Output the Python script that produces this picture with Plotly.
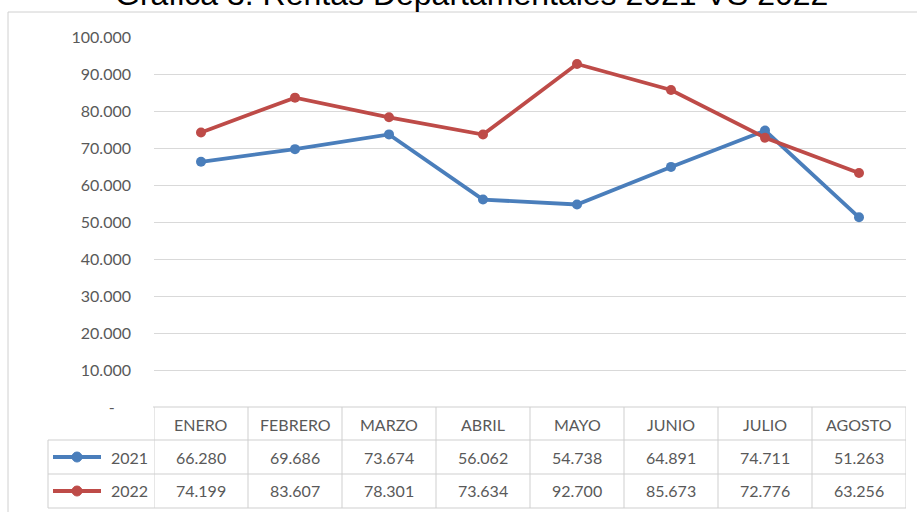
import plotly.graph_objects as go

# ---- data ----
months = ["ENERO", "FEBRERO", "MARZO", "ABRIL", "MAYO", "JUNIO", "JULIO", "AGOSTO"]
series_names = ["2021", "2022"]
v2021 = [66280, 69686, 73674, 56062, 54738, 64891, 74711, 51263]
v2022 = [74199, 83607, 78301, 73634, 92700, 85673, 72776, 63256]
y_ticks = [0, 10000, 20000, 30000, 40000, 50000, 60000, 70000, 80000, 90000, 100000]
y_ticktext = ["-\u00a0\u00a0\u00a0\u00a0", "10.000", "20.000", "30.000", "40.000", "50.000",
              "60.000", "70.000", "80.000", "90.000", "100.000"]
title_text = "Gráfica 3. Rentas Departamentales 2021 VS 2022"

colors = ["#4A7EBB", "#BE4B48"]
values = [v2021, v2022]

W, H = 917, 512
L, R, T, B = 154, 11, 37, 105
PW = W - L - R
PH = H - T - B
BOT = H - B  # pixel of plot bottom


def py(p):
    """pixel y -> paper y"""
    return (BOT - p) / PH


def px(p):
    """pixel x -> paper x"""
    return (p - L) / PW


def fmt(v):
    return f"{v:,}".replace(",", ".")


TXT = "#595959"
GRID = "#D9D9D9"
TBL = "#CFCFCF"
FONT = "Lato"
FS = 16

fig = go.Figure()
for name, vals, c in zip(series_names, values, colors):
    fig.add_trace(go.Scatter(
        x=months, y=vals, name=name, mode="lines+markers",
        line=dict(color=c, width=3.8),
        marker=dict(color=c, size=10),
        showlegend=False,
    ))

shapes = []
annotations = []

# chart border
shapes.append(dict(type="rect", xref="paper", yref="paper",
                   x0=px(8), x1=px(930), y0=py(12), y1=py(530),
                   line=dict(color="#D0D0D0", width=1), layer="below"))

# table lines
n = len(months)
rows_y = [407, 440, 474, 508]
shapes.append(dict(type="line", xref="paper", yref="paper",
                   x0=px(153), x1=1, y0=py(rows_y[0]), y1=py(rows_y[0]),
                   line=dict(color=TBL, width=1)))
for ry in rows_y[1:]:
    shapes.append(dict(type="line", xref="paper", yref="paper",
                       x0=px(48), x1=1, y0=py(ry), y1=py(ry),
                       line=dict(color=TBL, width=1)))
shapes.append(dict(type="line", xref="paper", yref="paper",
                   x0=px(48), x1=px(48), y0=py(440), y1=py(508),
                   line=dict(color=TBL, width=1)))
for k in range(n + 1):
    shapes.append(dict(type="line", xref="x", yref="paper",
                       x0=k - 0.5, x1=k - 0.5, y0=py(407), y1=py(508),
                       line=dict(color=TBL, width=1)))

# header text
for i, m in enumerate(months):
    annotations.append(dict(xref="x", yref="paper", x=i, y=py(424), text=m,
                            showarrow=False, xanchor="center", yanchor="middle",
                            font=dict(family=FONT, size=FS, color=TXT)))

# rows
row_centers = [457, 491]
for name, vals, c, yc in zip(series_names, values, colors, row_centers):
    for i, v in enumerate(vals):
        annotations.append(dict(xref="x", yref="paper", x=i, y=py(yc), text=fmt(v),
                                showarrow=False, xanchor="center", yanchor="middle",
                                font=dict(family=FONT, size=FS, color=TXT)))
    annotations.append(dict(xref="paper", yref="paper", x=px(150), y=py(yc), text=name,
                            showarrow=False, xanchor="right", yanchor="middle",
                            font=dict(family=FONT, size=FS, color=TXT)))
    shapes.append(dict(type="line", xref="paper", yref="paper",
                       x0=px(53), x1=px(101), y0=py(yc), y1=py(yc),
                       line=dict(color=c, width=3.8)))
    shapes.append(dict(type="circle", xref="paper", yref="paper",
                       xsizemode="pixel", ysizemode="pixel",
                       xanchor=px(77), yanchor=py(yc),
                       x0=-5, x1=5, y0=-5, y1=5,
                       fillcolor=c, line=dict(color=c, width=1)))

# title (cropped at the top edge, as in the reference)
annotations.append(dict(xref="paper", yref="paper", x=px(471), y=py(14), text=title_text,
                        showarrow=False, xanchor="center", yanchor="bottom",
                        font=dict(family="Liberation Sans", size=32, color="#000000")))

fig.update_layout(
    width=W, height=H,
    margin=dict(l=L, r=R, t=T, b=B),
    paper_bgcolor="white", plot_bgcolor="white",
    shapes=shapes, annotations=annotations,
    xaxis=dict(type="category", range=[-0.5, n - 0.5], showticklabels=False,
               showgrid=False, zeroline=False, showline=False, ticks=""),
    yaxis=dict(range=[0, 100000], tickvals=y_ticks, ticktext=y_ticktext,
               showgrid=True, gridcolor=GRID, gridwidth=1, zeroline=False,
               showline=False, ticks="", ticklabelstandoff=22,
               tickfont=dict(family=FONT, size=FS, color=TXT)),
)

fig.write_html(
    "out.html",
    config={"displayModeBar": False},
    post_script="document.body.style.margin='0';document.body.style.overflow='hidden';",
)
